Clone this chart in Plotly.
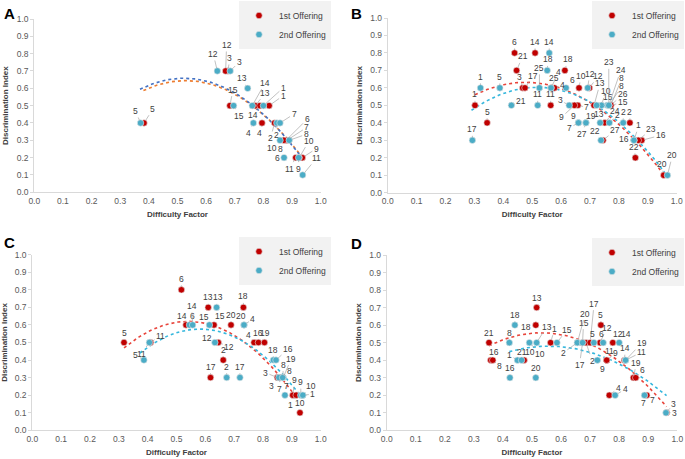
import numpy as np
import plotly.graph_objects as go

# ---------------- DATA ----------------
# Panel A
A1_ITEMS = ["1","2","3","4","5","6","7","8","9","10","11","12","13","14","15"]
A1_DF = [0.820,0.839,0.676,0.795,0.383,0.879,0.882,0.871,0.936,0.925,0.913,0.668,0.772,0.788,0.683]
A1_DI = [0.5,0.4,0.7,0.4,0.4,0.3,0.3,0.3,0.2,0.2,0.2,0.7,0.5,0.5,0.5]
A2_ITEMS = ["1","2","3","4","5","6","7","8","9","10","11","12","13","14","15"]
A2_DF = [0.800,0.847,0.684,0.765,0.371,0.872,0.858,0.890,0.923,0.858,0.937,0.639,0.745,0.761,0.696]
A2_DI = [0.5,0.4,0.7,0.4,0.4,0.2,0.4,0.3,0.2,0.3,0.1,0.7,0.6,0.5,0.5]

# Panel B
B1_ITEMS = ["1","2","3","4","5","6","7","8","9","10","11","12","13","14","15","16","17","18","20","21","22","23","24","25","26","27"]
B1_DF = [0.302,0.838,0.467,0.577,0.344,0.439,0.658,0.772,0.646,0.662,0.564,0.698,0.714,0.510,0.772,0.879,0.475,0.613,0.955,0.446,0.857,0.867,0.751,0.565,0.772,0.745]
B1_DI = [0.5,0.4,0.6,0.6,0.4,0.8,0.5,0.5,0.5,0.6,0.5,0.6,0.5,0.8,0.5,0.3,0.6,0.7,0.1,0.7,0.2,0.3,0.4,0.6,0.5,0.3]
B2_ITEMS = ["1","2","3","4","5","6","7","8","9","10","11","12","13","14","15","16","17","18","19","20","21","22","23","24","25","27","","2","1"]
B2_DF = [0.321,0.815,0.628,0.565,0.388,0.617,0.660,0.765,0.660,0.740,0.519,0.692,0.735,0.559,0.760,0.852,0.293,0.552,0.686,0.968,0.428,0.738,0.765,0.765,0.525,0.686,0.723,0.767,0.852]
B2_DI = [0.6,0.4,0.5,0.6,0.6,0.6,0.4,0.5,0.4,0.5,0.5,0.6,0.4,0.8,0.5,0.3,0.3,0.7,0.4,0.1,0.5,0.3,0.5,0.5,0.6,0.4,0.5,0.4,0.3]

# Panel C
C1_ITEMS = ["5","11","6","14","13","15","12","2","17","20","18","4","16","19","3","8","7","9","1","10"]
C1_DF = [0.318,0.410,0.517,0.533,0.610,0.630,0.645,0.662,0.618,0.689,0.732,0.769,0.784,0.805,0.850,0.863,0.858,0.903,0.915,0.928]
C1_DI = [0.5,0.5,0.8,0.6,0.7,0.6,0.5,0.4,0.3,0.6,0.7,0.5,0.5,0.5,0.3,0.3,0.3,0.2,0.2,0.1]
C2_ITEMS = ["5","11","6","14","13","15","12","2","17","20","4","18","16","19","3","8","7","9","10","1"]
C2_DF = [0.387,0.406,0.545,0.556,0.639,0.614,0.633,0.674,0.720,0.734,0.734,0.836,0.845,0.870,0.855,0.868,0.876,0.931,0.938,0.938]
C2_DI = [0.4,0.5,0.6,0.6,0.7,0.6,0.5,0.3,0.3,0.6,0.6,0.4,0.4,0.3,0.3,0.3,0.2,0.2,0.2,0.2]

# Panel D
D1_ITEMS = ["21","16","8","10","18","13","1","15","2","17","12","5","12","11","9","14","19","6","4","7","3"]
D1_DF = [0.352,0.358,0.365,0.473,0.513,0.516,0.564,0.674,0.686,0.700,0.734,0.737,0.778,0.757,0.757,0.818,0.849,0.857,0.766,0.895,0.963]
D1_DI = [0.5,0.4,0.4,0.4,0.6,0.7,0.5,0.5,0.5,0.5,0.5,0.6,0.5,0.4,0.4,0.4,0.3,0.3,0.2,0.2,0.1]
D2_ITEMS = ["8","18","16","1","21","10","13","20","15","20","2","17","5","6","14","9","19","11","4","7","3"]
D2_DF = [0.422,0.441,0.424,0.450,0.464,0.491,0.516,0.513,0.586,0.656,0.656,0.674,0.713,0.745,0.800,0.725,0.822,0.822,0.786,0.887,0.961]
D2_DI = [0.5,0.6,0.3,0.4,0.4,0.5,0.5,0.3,0.5,0.5,0.5,0.5,0.5,0.5,0.5,0.4,0.4,0.4,0.2,0.2,0.1]

# Polynomial (order 2) trendlines as drawn in the reference: points
A1_TREND_DF = [0.381, 0.500, 0.765, 0.934]
A1_TREND_DI = [0.590, 0.637, 0.500, 0.205]
A2_TREND_DF = [0.369, 0.500, 0.765, 0.928]
A2_TREND_DI = [0.598, 0.650, 0.505, 0.210]
B1_TREND_DF = [0.302, 0.500, 0.714, 0.954]
B1_TREND_DI = [0.560, 0.633, 0.500, 0.107]
B2_TREND_DF = [0.290, 0.516, 0.735, 0.965]
B2_TREND_DI = [0.477, 0.588, 0.500, 0.096]
C1_TREND_DF = [0.318, 0.443, 0.524, 0.790, 0.911]
C1_TREND_DI = [0.472, 0.590, 0.613, 0.438, 0.191]
C2_TREND_DF = [0.373, 0.443, 0.570, 0.824, 0.928]
C2_TREND_DI = [0.440, 0.524, 0.561, 0.410, 0.191]
D1_TREND_DF = [0.352, 0.424, 0.516, 0.654, 0.826, 0.963]
D1_TREND_DI = [0.490, 0.530, 0.548, 0.500, 0.401, 0.116]
D2_TREND_DF = [0.422, 0.522, 0.596, 0.711, 0.849, 0.963]
D2_TREND_DI = [0.452, 0.477, 0.471, 0.439, 0.344, 0.192]

X_TICKS = [0.0,0.1,0.2,0.3,0.4,0.5,0.6,0.7,0.8,0.9,1.0]
Y_TICKS = [0.0,0.1,0.2,0.3,0.4,0.5,0.6,0.7,0.8,0.9,1.0]
SERIES_NAMES = ["1st Offering", "2nd Offering"]
PANEL_LETTERS = ["A", "B", "C", "D"]

# ---------------- LABEL OFFSETS (pixels, layout only) ----------------
A1_OFF = [(14,-10),(-4,15),(2,-13),(-2,10),(9,-14),(21,-21),(20,-13),(-3,9),(14,-9),(10,-17),(-6,11),(1,-26),(10,-13),(-7,9),(3,-16)]
A2_OFF = [(20,-18),(0,12),(9,-9),(-5,10),(-5,-12),(-7,0),(14,-9),(17,-6),(0,11),(-8,8),(14,-17),(-4,-17),(-6,-10),(13,-23),(5,10)]
B1_OFF = [(0,-11),(0,-11),(-3,-11),(8,-3),(0,-11),(0,-11),(9,2),(11,-27),(-13,12),(2,-12),(0,-11),(9,-12),(6,-22),(0,-11),(12,-3),(19,-5),(8,-12),(3,-11),(-2,-11),(6,-14),(-1,-11),(13,-11),(10,-12),(3,-10),(12,-11),(12,-10)]
B2_OFF = [(0,-11),(0,-11),(-9,-5),(8,-16),(0,-11),(6,-8),(-9,5),(13,-19),(-5,-7),(4,-14),(0,-11),(2,-14),(-1,-9),(0,-11),(1,-8),(-10,-1),(0,-11),(1,-11),(5,-7),(5,-20),(10,-4),(-6,-9),(0,-43),(12,-35),(0,-20),(-4,11),(0,0),(8,-8),(5,-15)]
C1_OFF = [(0,-10),(10,-7),(0,-11),(-4,-9),(0,-10),(6,-9),(11,4),(0,-10),(0,-11),(0,-10),(0,-11),(-6,-8),(0,-10),(1,-10),(-12,-5),(8,-7),(0,11),(2,-15),(-6,10),(0,-10)]
C2_OFF = [(-8,-5),(-8,11),(3,-9),(-1,-19),(1,-10),(-5,-8),(-8,-5),(0,-11),(0,-11),(-3,-9),(9,-6),(0,-10),(12,-11),(8,-19),(-7,8),(1,-13),(2,-9),(0,-13),(8,-9),(10,-1)]
D1_OFF = [(0,-10),(3,-8),(7,6),(6,-8),(-10,2),(0,-10),(4,-14),(1,-20),(6,18),(4,-39),(7,-15),(0,-10),(5,-9),(3,-9),(9,-7),(1,-12),(3,-15),(7,-8),(9,-7),(6,5),(8,0)]
D2_OFF = [(0,-10),(0,-10),(0,-10),(-8,-5),(0,-8),(11,11),(10,-16),(0,-10),(10,-13),(8,-29),(-14,10),(-3,22),(-1,-9),(-2,-9),(7,-9),(5,9),(16,-17),(16,-8),(10,-6),(-1,8),(8,-9)]

# ---------------- STYLE ----------------
FONT = "Liberation Sans, Arial, sans-serif"
RED = "#C00000"
TEAL = "#4BACC6"
TREND_COLORS = {
    "A": ("#ED7D31", "#4472C4"),
    "B": ("#E8453C", "#35B7DD"),
    "C": ("#E8453C", "#35B7DD"),
    "D": ("#E8453C", "#35B7DD"),
}
W, H = 685, 459
# plot-area pixel boxes: left, right, top, bottom
BOXES = {
    "A": (34.3, 320.7, 19.0, 192.3),
    "B": (387.7, 676.7, 18.0, 192.7),
    "C": (32.3, 320.7, 254.7, 430.3),
    "D": (386.7, 677.3, 255.0, 430.3),
}
LEGEND_POS = {"A": (331, 1), "B": (684, 1), "C": (331, 237), "D": (684, 238)}
LETTER_POS = {"A": (2, 3), "B": (349, 3), "C": (2, 232), "D": (349, 233)}

panels = {
    "A": (A1_ITEMS, A1_DF, A1_DI, A1_OFF, A2_ITEMS, A2_DF, A2_DI, A2_OFF),
    "B": (B1_ITEMS, B1_DF, B1_DI, B1_OFF, B2_ITEMS, B2_DF, B2_DI, B2_OFF),
    "C": (C1_ITEMS, C1_DF, C1_DI, C1_OFF, C2_ITEMS, C2_DF, C2_DI, C2_OFF),
    "D": (D1_ITEMS, D1_DF, D1_DI, D1_OFF, D2_ITEMS, D2_DF, D2_DI, D2_OFF),
}
trends = {
    "A": ((A1_TREND_DF, A1_TREND_DI), (A2_TREND_DF, A2_TREND_DI)),
    "B": ((B1_TREND_DF, B1_TREND_DI), (B2_TREND_DF, B2_TREND_DI)),
    "C": ((C1_TREND_DF, C1_TREND_DI), (C2_TREND_DF, C2_TREND_DI)),
    "D": ((D1_TREND_DF, D1_TREND_DI), (D2_TREND_DF, D2_TREND_DI)),
}

fig = go.Figure()
annotations = []
layout_axes = {}

for idx, key in enumerate(PANEL_LETTERS):
    n = idx + 1
    xa = "x" if n == 1 else f"x{n}"
    ya = "y" if n == 1 else f"y{n}"
    leg = "legend" if n == 1 else f"legend{n}"
    i1, x1, y1, o1, i2, x2, y2, o2 = panels[key]
    c1, c2 = TREND_COLORS[key]

    # order-2 polynomial trendlines through the curve points
    for (tx, ty), col in zip(trends[key], (c1, c2)):
        coef = np.polyfit(tx, ty, 2)
        gx = np.linspace(min(tx), max(tx), 80)
        fig.add_trace(go.Scatter(x=gx, y=np.polyval(coef, gx), mode="lines",
                                 line=dict(color=col, width=1.6, dash="dot"),
                                 showlegend=False, hoverinfo="skip",
                                 xaxis=xa, yaxis=ya))

    for name, xs, ys, col in ((SERIES_NAMES[0], x1, y1, RED), (SERIES_NAMES[1], x2, y2, TEAL)):
        fig.add_trace(go.Scatter(x=xs, y=ys, mode="markers", name=name,
                                 marker=dict(color=col, size=6.5,
                                             line=dict(color="#E7E7E7", width=0.6)),
                                 xaxis=xa, yaxis=ya, legend=leg))

    for items, xs, ys, offs in ((i1, x1, y1, o1), (i2, x2, y2, o2)):
        for it, xv, yv, (dx, dy) in zip(items, xs, ys, offs):
            if not it:
                continue
            annotations.append(dict(
                x=xv, y=yv, xref=xa, yref=ya, text=it,
                showarrow=True, arrowhead=0, arrowwidth=0.7, arrowcolor="#A6A6A6",
                ax=dx, ay=dy, standoff=3,
                font=dict(family=FONT, size=8.5, color="#404040")))

    l, r, t, b = BOXES[key]
    axis_common = dict(range=[0, 1], showgrid=False, zeroline=False, automargin=False,
                       showline=True, linecolor="#D9D9D9", linewidth=1,
                       tickfont=dict(family=FONT, size=8.5, color="#595959"),
                       tickformat=".1f")
    layout_axes["xaxis" if n == 1 else f"xaxis{n}"] = dict(
        axis_common, domain=[l / W, r / W], anchor=ya, tickvals=X_TICKS,
        ticks="", title=dict(text="Difficulty Factor", standoff=6,
                             font=dict(family=FONT, size=8, color="#404040", weight="bold")))
    layout_axes["yaxis" if n == 1 else f"yaxis{n}"] = dict(
        axis_common, domain=[1 - b / H, 1 - t / H], anchor=xa, tickvals=Y_TICKS,
        ticks="outside", ticklen=3, tickcolor="#D9D9D9",
        title=dict(text="Discrimination Index", standoff=6,
                   font=dict(family=FONT, size=8, color="#404040", weight="bold")))

    lx, ly = LEGEND_POS[key]
    layout_axes[leg] = dict(x=lx / W, y=1 - ly / H, xanchor="right", yanchor="top",
                            bgcolor="#F2F2F2", borderwidth=0,
                            font=dict(family=FONT, size=8.5, color="#404040"),
                            itemwidth=30, tracegroupgap=0)

    px, py = LETTER_POS[key]
    annotations.append(dict(x=px / W, y=1 - py / H, xref="paper", yref="paper",
                            xanchor="left", yanchor="top", showarrow=False, text=key,
                            font=dict(family=FONT, size=15, color="#000000", weight="bold")))

fig.update_layout(width=W, height=H, margin=dict(l=0, r=0, t=0, b=0, autoexpand=False),
                  paper_bgcolor="white", plot_bgcolor="white",
                  annotations=annotations, **layout_axes)

# place the figure at the page's top-left corner (no default body margin)
fig.write_html("out.html", config={"displayModeBar": False},
               post_script="document.body.style.margin='0';document.body.style.overflow='hidden';")
